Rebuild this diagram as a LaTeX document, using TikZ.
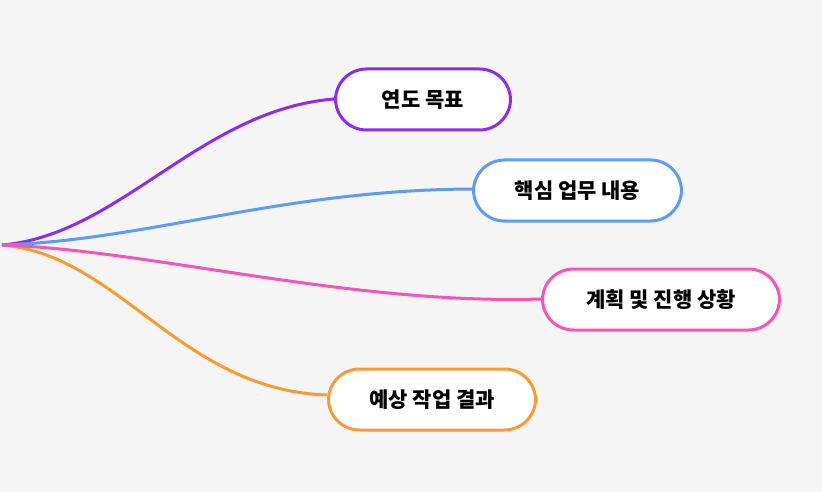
\documentclass[tikz,border=0pt]{standalone}
\usepackage{fontspec}
\newfontfamily\kr{Noto Sans CJK KR}
\definecolor{bg}{HTML}{F5F5F5}
\definecolor{cpur}{HTML}{8A2DF2}
\definecolor{cblue}{HTML}{5E9BF7}
\definecolor{cpink}{HTML}{F755B2}
\definecolor{corg}{HTML}{FA9A32}
\begin{document}
\begin{tikzpicture}[x=1pt,y=-1pt,
  topic/.style={draw=#1,line width=3pt,rounded corners=31pt,fill=white,minimum height=61pt,inner xsep=0pt,font=\kr\bfseries\fontsize{21}{24}\selectfont,text=black},
  branch/.style={draw=#1,line width=3pt}]
\fill[bg] (0,0) rectangle (822,492);
\useasboundingbox (0,0) rectangle (822,492);
\coordinate (r) at (2,245);
\draw[branch=corg] (r) .. controls (120,255) and (180,390) .. (327,395);
\draw[branch=cpur] (r) .. controls (120,235) and (200,110) .. (334,99);
\draw[branch=cblue] (r) .. controls (150,240) and (280,190) .. (472,189);
\draw[branch=cpink] (r) .. controls (150,250) and (350,305) .. (541,299);
\node[topic=cpur,minimum width=175pt] (a) at (423,99.5) {연도 목표};
\node[topic=cblue,minimum width=208pt] (b) at (577.5,190.5) {핵심 업무 내용};
\node[topic=cpink,minimum width=237pt] (c) at (661,299.5) {계획 및 진행 상황};
\node[topic=corg,minimum width=207pt] (d) at (432,399.5) {예상 작업 결과};
\end{tikzpicture}
\end{document}
